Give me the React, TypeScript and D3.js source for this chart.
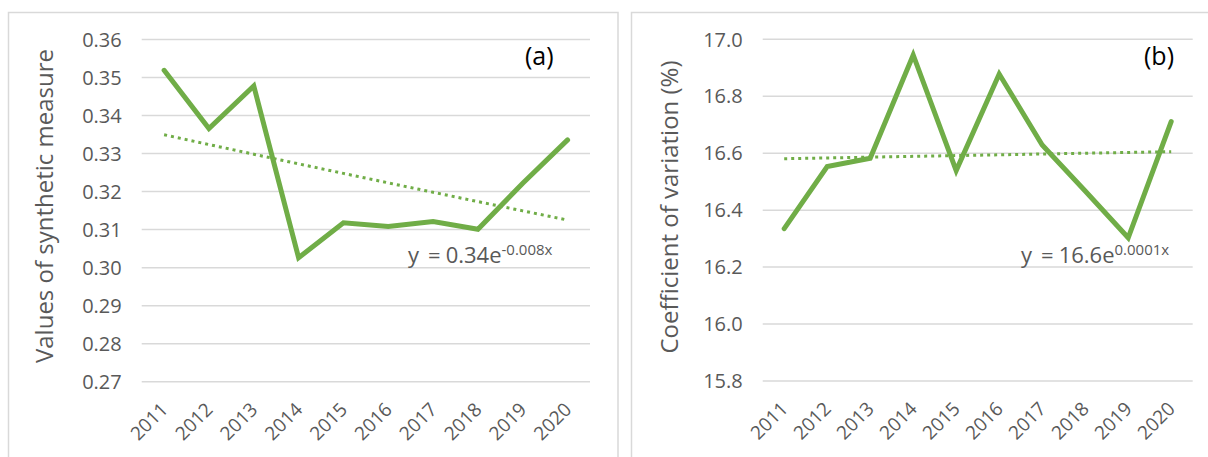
import React from 'react';
import * as d3 from 'd3';

const years = ['2011', '2012', '2013', '2014', '2015', '2016', '2017', '2018', '2019', '2020'];
const syntheticValues = [0.3519, 0.3366, 0.3478, 0.3026, 0.3118, 0.3108, 0.3121, 0.3101, 0.3222, 0.3336];
const variationValues = [16.335, 16.553, 16.582, 16.945, 16.539, 16.878, 16.629, 16.467, 16.303, 16.711];
const ticksA = [0.27, 0.28, 0.29, 0.3, 0.31, 0.32, 0.33, 0.34, 0.35, 0.36];
const ticksB = [15.8, 16.0, 16.2, 16.4, 16.6, 16.8, 17.0];

const GREEN = '#70AD47';
const GRID = '#D9D9D9';
const TEXT = '#595959';
const FONT = '"Open Sans", sans-serif';

function expFit(vals: number[]) {
  const xs = vals.map((_, i) => i + 1);
  const ys = vals.map((v) => Math.log(v));
  const mx = d3.mean(xs) as number;
  const my = d3.mean(ys) as number;
  let sxy = 0, sxx = 0;
  xs.forEach((x, i) => { sxy += (x - mx) * (ys[i] - my); sxx += (x - mx) * (x - mx); });
  const b = sxy / sxx;
  const a = my - b * mx;
  return xs.map((x) => Math.exp(a + b * x));
}

type PanelProps = {
  frame: [number, number, number, number];
  plot: { x0: number; x1: number; yTop: number; yBottom: number };
  values: number[];
  ticks: number[];
  fmt: (v: number) => string;
  title: string;
  titleX: number;
  titleY: number;
  tag: string;
  tagX: number;
  eqMain: string;
  eqSup: string;
  eqX: number;
  eqY: number;
};

function Panel(p: PanelProps) {
  const x = d3.scaleBand<string>().domain(years).range([p.plot.x0, p.plot.x1]);
  const cx = (y: string) => (x(y) as number) + x.bandwidth() / 2;
  const y = d3.scaleLinear().domain([p.ticks[0], p.ticks[p.ticks.length - 1]]).range([p.plot.yBottom, p.plot.yTop]);
  const line = d3.line<number>().x((_, i) => cx(years[i])).y((v) => y(v));
  const trend = expFit(p.values);
  const [fx, fy, fw, fh] = p.frame;
  return (
    <g>
      <rect x={fx} y={fy} width={fw} height={fh} fill="#fff" stroke={GRID} strokeWidth={1.5} />
      {p.ticks.map((t) => (
        <g key={t}>
          <line x1={p.plot.x0} x2={p.plot.x1} y1={y(t)} y2={y(t)} stroke={GRID} strokeWidth={1.5} />
          <text x={p.plot.x0 - 20} y={y(t)} dy="0.36em" textAnchor="end" fontSize={20} fill={TEXT} fontFamily={FONT}>
            {p.fmt(t)}
          </text>
        </g>
      ))}
      {years.map((yr) => (
        <text
          key={yr}
          transform={`translate(${cx(yr) + 5},${p.plot.yBottom + 29}) rotate(-45)`}
          textAnchor="end"
          fontSize={19}
          fill={TEXT}
          fontFamily={FONT}
        >
          {yr}
        </text>
      ))}
      <text
        transform={`translate(${p.titleX},${p.titleY}) rotate(-90)`}
        textAnchor="middle"
        fontSize={24}
        fill={TEXT}
        fontFamily={FONT}
      >
        {p.title}
      </text>
      <path d={line(trend) as string} fill="none" stroke={GREEN} strokeWidth={3} strokeDasharray="3 4" />
      <path d={line(p.values) as string} fill="none" stroke={GREEN} strokeWidth={5} strokeLinejoin="miter" strokeLinecap="round" />
      <text x={p.eqX} y={p.eqY} fontSize={22} fill={TEXT} fontFamily={FONT}>
        <tspan>y</tspan>
        <tspan dx={9}>=</tspan>
        <tspan dx={5}>{p.eqMain}</tspan>
        <tspan fontSize={15} dy={-8}>{p.eqSup}</tspan>
      </text>
      <text x={p.tagX} y={65} fontSize={25} fill="#000" fontFamily={FONT}>
        {p.tag}
      </text>
    </g>
  );
}

export default function App() {
  return (
    <svg width={1208} height={457} style={{ position: 'absolute', left: 0, top: 0, background: '#fff' }}>
      <Panel
        frame={[8.5, 12.5, 609.5, 460]}
        plot={{ x0: 141.7, x1: 590, yTop: 39.5, yBottom: 381.7 }}
        values={syntheticValues}
        ticks={ticksA}
        fmt={d3.format('.2f')}
        title="Values of synthetic measure"
        titleX={53}
        titleY={206}
        tag="(a)"
        tagX={525}
        eqMain="0.34e"
        eqSup="-0.008x"
        eqX={408}
        eqY={263}
      />
      <Panel
        frame={[631.5, 12.5, 590, 460]}
        plot={{ x0: 762.7, x1: 1192.7, yTop: 39.3, yBottom: 381 }}
        values={variationValues}
        ticks={ticksB}
        fmt={d3.format('.1f')}
        title="Coefficient of variation (%)"
        titleX={678}
        titleY={207}
        tag="(b)"
        tagX={1144}
        eqMain="16.6e"
        eqSup="0.0001x"
        eqX={1021}
        eqY={263}
      />
    </svg>
  );
}
